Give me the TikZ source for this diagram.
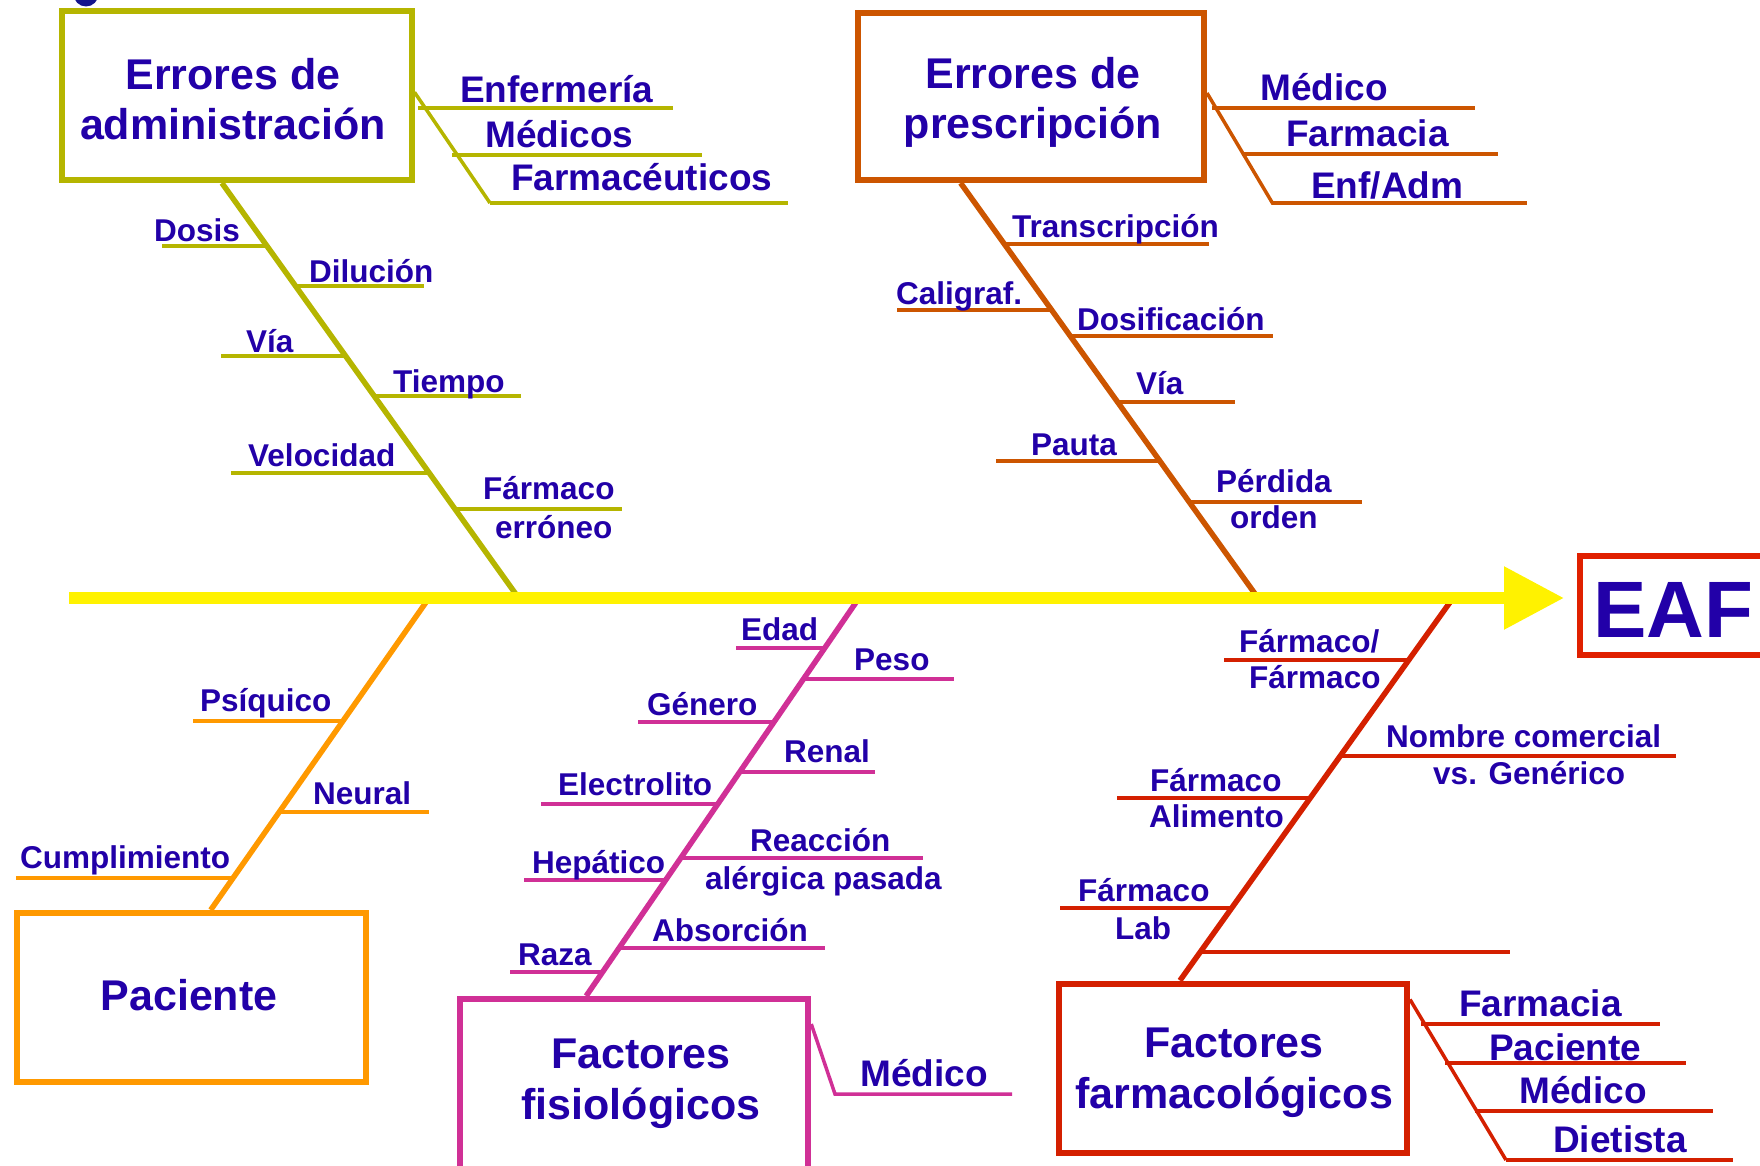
\documentclass[tikz,border=0pt]{standalone}
\usepackage{fontspec}
\setmainfont{Liberation Sans}
\usepackage{xcolor}
\usepackage{tikz}
\usetikzlibrary{arrows.meta}
\usetikzlibrary{calc}

\definecolor{admcol}{RGB}{181,181,0}
\definecolor{precol}{RGB}{204,85,0}
\definecolor{paccol}{RGB}{255,153,0}
\definecolor{fiscol}{RGB}{208,48,150}
\definecolor{farcol}{RGB}{212,32,0}
\definecolor{eafcol}{RGB}{224,32,0}
\definecolor{txtcol}{RGB}{34,0,168}
\definecolor{dotcol}{RGB}{20,20,140}

\begin{document}
\begin{tikzpicture}[x=1pt, y=-1pt,
    catbox/.style={draw=#1, line width=6pt, inner sep=0pt},
    boxtitle/.style={text=txtcol, font=\fontsize{43}{50.5}\selectfont\bfseries, align=center, anchor=north, inner sep=0pt},
    lbl/.style={text=txtcol, font=\fontsize{31.5}{36}\selectfont\bfseries, anchor=base west, inner sep=0pt},
    sidelbl/.style={lbl, font=\fontsize{37}{42}\selectfont\bfseries},
    spine/.style={draw=#1, line width=5.5pt},
    twig/.style={draw=#1, line width=3.5pt}]
    \useasboundingbox (0,0) rectangle (1760,1166);
    \clip (0,0) rectangle (1760,1166);

    % bullet cut off at the top
    \fill[dotcol] (86,-6) circle (12.5);

    % Errores de administracion
    \node[catbox=admcol, minimum width=350pt, minimum height=168.5pt] (adm) at (236.5,95.75) {};
    \node[boxtitle] (adm-t) at (233,58) {Errores de\\administración};
    \coordinate (adm-end) at (518.6,598);
    \draw[spine=admcol] ($(adm.south west)!.459!(adm.south east)$) -- (adm-end);
    \draw[twig=admcol] ($(adm.north east)!.48!(adm.south east)$) -- (490,203);
    \foreach \a/\b/\y in {418/673/108, 452/702/155, 490/788/203}
        \draw[twig=admcol] (\a,\y) -- (\b,\y);
    \foreach \x/\y/\t [count=\i] in {460/103/Enfermería, 485/148/Médicos, 511/191/Farmacéuticos}
        \node[sidelbl] (adm-s\i) at (\x,\y) {\t};
    \foreach \a/\b/\y in {162/267/246, 296/424/286, 221/346/356, 374/521/396, 231/429/473, 455/622/509}
        \draw[twig=admcol] (\a,\y) -- (\b,\y);
    \foreach \x/\y/\t [count=\i] in {154/241/Dosis, 309/282/Dilución, 246/352/Vía, 393/392/Tiempo,
            248/466/Velocidad, 483/499/Fármaco, 495/538/erróneo}
        \node[lbl] (adm-l\i) at (\x,\y) {\t};

    % Errores de prescripcion
    \node[catbox=precol, minimum width=346pt, minimum height=167pt] (pre) at (1031,96.5) {};
    \node[boxtitle] (pre-t) at (1033,57) {Errores de\\prescripción};
    \coordinate (pre-end) at (1258,598);
    \draw[spine=precol] ($(pre.south west)!.3!(pre.south east)$) -- (pre-end);
    \draw[twig=precol] ($(pre.north east)!.48!(pre.south east)$) -- (1273,204);
    \foreach \a/\b/\y in {1212/1475/108, 1242/1498/154, 1272/1527/203}
        \draw[twig=precol] (\a,\y) -- (\b,\y);
    \foreach \x/\y/\t [count=\i] in {1260/101/Médico, 1286/147/Farmacia, 1311/199/{Enf/Adm}}
        \node[sidelbl] (pre-s\i) at (\x,\y) {\t};
    \foreach \a/\b/\y in {1004/1209/244, 897/1051/310, 1070/1273/336, 1117/1235/402, 996/1160/461, 1189/1362/502}
        \draw[twig=precol] (\a,\y) -- (\b,\y);
    \foreach \x/\y/\t [count=\i] in {1012/237/Transcripción, 896/304/Caligraf., 1077/330/Dosificación,
            1136/394/Vía, 1031/455/Pauta, 1216/492/Pérdida, 1230/528/orden}
        \node[lbl] (pre-l\i) at (\x,\y) {\t};

    % Paciente
    \node[catbox=paccol, minimum width=349pt, minimum height=169pt] (pac) at (191.5,997.5) {};
    \node[boxtitle] (pac-t) at (189,979) {Paciente};
    \coordinate (pac-end) at (429,598);
    \draw[spine=paccol] ($(pac.north west)!.554!(pac.north east)$) -- (pac-end);
    \foreach \a/\b/\y in {193/344/721, 279/429/812, 16/233/878}
        \draw[twig=paccol] (\a,\y) -- (\b,\y);
    \foreach \x/\y/\t [count=\i] in {200/711/Psíquico, 313/804/Neural, 20/868/Cumplimiento}
        \node[lbl] (pac-l\i) at (\x,\y) {\t};

    % Factores fisiologicos
    \node[catbox=fiscol, minimum width=348.5pt, minimum height=176pt] (fis) at (634,1087) {};
    \node[boxtitle] (fis-t) at (641,1039) {Factores\\fisiológicos};
    \coordinate (fis-end) at (859,598);
    \coordinate (fis-knee) at (835,1094);
    \draw[spine=fiscol] ($(fis.north west)!.365!(fis.north east)$) -- (fis-end);
    \draw[twig=fiscol] ($(fis.north east)+(0,28)$) -- (fis-knee) -- (1012,1094);
    \node[sidelbl] (fis-s1) at (860,1086) {Médico};
    \foreach \a/\b/\y in {736/825/648, 804/954/679, 638/775/722, 741/875/772, 541/719/804,
            682/923/858, 524/667/880, 620/825/948, 510/604/972}
        \draw[twig=fiscol] (\a,\y) -- (\b,\y);
    \foreach \x/\y/\t [count=\i] in {741/640/Edad, 854/670/Peso, 647/715/Género, 784/762/Renal,
            558/795/Electrolito, 750/851/Reacción, 705/889/alérgica pasada, 532/873/Hepático,
            652/941/Absorción, 518/965/Raza}
        \node[lbl] (fis-l\i) at (\x,\y) {\t};

    % Factores farmacologicos
    \node[catbox=farcol, minimum width=348.5pt, minimum height=169pt] (far) at (1232.75,1068) {};
    \node[boxtitle] (far-t) at (1234,1028) {Factores\\farmacológicos};
    \coordinate (far-end) at (1453,598);
    \draw[spine=farcol] ($(far.north west)!.351!(far.north east)$) -- (far-end);
    \draw[twig=farcol] ($(far.north east)+(0,19)$) -- (1506,1160);
    \foreach \a/\b/\y in {1421/1660/1024, 1445/1686/1063, 1475/1713/1111, 1506/1733/1160}
        \draw[twig=farcol] (\a,\y) -- (\b,\y);
    \foreach \x/\y/\t [count=\i] in {1459/1016/Farmacia, 1489/1060/Paciente, 1519/1103/Médico, 1553/1152/Dietista}
        \node[sidelbl] (far-s\i) at (\x,\y) {\t};
    \foreach \a/\b/\y in {1224/1409/660, 1341/1676/756, 1117/1311/798, 1060/1234/908, 1202/1510/952}
        \draw[twig=farcol] (\a,\y) -- (\b,\y);
    \foreach \x/\y/\t [count=\i] in {1239/652/{Fármaco/}, 1249/688/Fármaco, 1386/747/Nombre comercial,
            1433/784/vs. Genérico, 1150/791/Fármaco, 1149/827/Alimento, 1078/901/Fármaco, 1115/939/Lab}
        \node[lbl] (far-l\i) at (\x,\y) {\t};

    % EAF
    \node[catbox=eafcol, minimum width=240pt, minimum height=99pt] (eaf) at (1700,605.2) {};
    \node[text=txtcol, font=\fontsize{80}{90}\selectfont\bfseries, anchor=base west, inner sep=0pt] (eaf-t) at (1593,637) {EAF};

    % main arrow
    \coordinate (tail) at (69,598);
    \draw[yellow, line width=12pt, -{Triangle[length=60pt, width=60pt]}, shorten >=13pt] (tail) -- (tail -| eaf.west);
\end{tikzpicture}
\end{document}
